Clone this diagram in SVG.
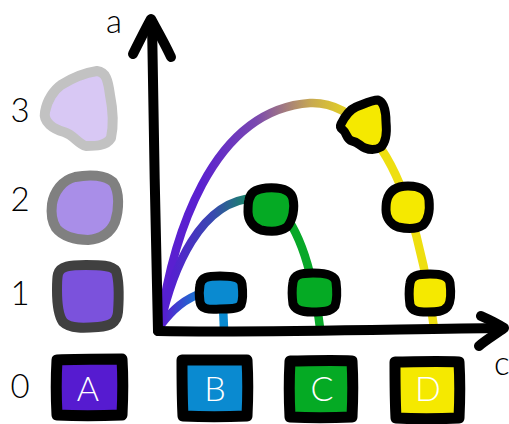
<svg xmlns="http://www.w3.org/2000/svg" width="509" height="424" viewBox="0 0 509 424">
<defs>
<style>
text{font-family:Lato,"Liberation Sans",sans-serif;font-weight:300;font-size:33px;fill:#000}
.lbl{fill:#fff;text-anchor:middle;font-size:34px}
.ax{fill:none;stroke:#000;stroke-width:10;stroke-linecap:round;stroke-linejoin:round}
.cv{fill:none;stroke-width:8.5;stroke-linecap:butt}
.pt{stroke:#000;stroke-width:9;stroke-linejoin:round}
.box{stroke:#000;stroke-width:11;stroke-linejoin:round}
.blob{stroke-width:10;stroke-linejoin:round}
</style>
<linearGradient id="gBig" gradientUnits="userSpaceOnUse" x1="200" y1="0" x2="360" y2="0">
<stop offset="0" stop-color="#5a20d0"/><stop offset="0.35" stop-color="#7a48b0"/><stop offset="0.7" stop-color="#c8aa50"/><stop offset="1" stop-color="#eedf10"/>
</linearGradient>
<linearGradient id="gMid" gradientUnits="userSpaceOnUse" x1="172" y1="0" x2="262" y2="0">
<stop offset="0" stop-color="#5520d0"/><stop offset="0.45" stop-color="#3848b0"/><stop offset="0.8" stop-color="#1c8070"/><stop offset="1" stop-color="#08a828"/>
</linearGradient>
<linearGradient id="gSm" gradientUnits="userSpaceOnUse" x1="165" y1="0" x2="205" y2="0">
<stop offset="0" stop-color="#5520d0"/><stop offset="1" stop-color="#0a8ad0"/>
</linearGradient>
</defs>
<rect width="509" height="424" fill="#fff"/>

<g id="connectors">
<path class="cv" stroke="url(#gBig)" d="M160,326 C172,240 210,110 310,103 C355,101 390,150 408,207 C420,245 428,280 434,328"/>
<path class="cv" stroke="url(#gMid)" d="M160,326 C172,270 200,200 255,198"/>
<path class="cv" stroke="#08a828" d="M255,198 C285,196 305,245 314,292 C317,305 319,318 320,328"/>
<path class="cv" stroke="url(#gSm)" d="M160,326 C172,310 185,298 205,292"/>
<path class="cv" stroke="#0a8ad0" d="M223,305 L224,330"/>
</g>

<g id="axes">
<path class="ax" d="M158,331 C156,250 153,100 152,22"/>
<path class="ax" d="M133,54 C140,40 146,28 151,19 C157,30 164,42 171,57"/>
<path class="ax" d="M158,331 C260,333 400,329 503,328"/>
<path class="ax" d="M481,316 C490,320 498,324 504,328 C496,334 486,340 479,346"/>
<text x="114" y="33" text-anchor="middle" font-size="37">a</text>
<text x="494" y="375" font-size="35">c</text>
</g>

<g id="level3"><text x="20" y="122" text-anchor="middle">3</text>
<path class="blob" fill="#d8c8f4" stroke="#c2c2c2" d="M45,112 C47,100 54,90 61,85 C72,78 84,73 97,71 C106,72 108,80 110,95 C113,110 114,124 111,138 C106,146 96,146 86,146 C78,144 74,135 64,132 C53,129 43,122 45,112 Z"/></g>
<g id="level2"><text x="20" y="211" text-anchor="middle">2</text>
<path class="blob" fill="#a98ee8" stroke="#808080" d="M52,204 C54,192 62,180 75,177 C90,174 105,175 113,182 C120,192 119,210 115,222 C110,234 100,239 88,240 C75,240 62,236 56,228 C51,220 51,212 52,204 Z"/></g>
<g id="level1"><text x="20" y="305" text-anchor="middle">1</text>
<path class="blob" fill="#7b52dc" stroke="#404040" d="M58,274 C60,266 70,265 86,265 C100,265 112,265 116,271 C119,280 119,298 118,312 C117,323 110,326 98,327 C85,328 70,329 63,322 C58,315 57,300 57,290 C57,283 57,278 58,274 Z"/></g>
<g id="level0"><text x="20" y="398" text-anchor="middle">0</text></g>

<g id="ptB"><path class="pt" fill="#0a8ad0" d="M200,285 C201,277 208,276 220,276 C232,276 241,277 242,284 C243,292 243,300 241,305 C238,309 230,309 220,309 C208,310 201,309 200,302 C199,296 199,290 200,285 Z"/></g>
<g id="ptC1"><path class="pt" fill="#05aa24" d="M249,200 C250,193 255,189 266,188 C280,187 291,190 293,199 C295,208 293,220 287,227 C280,232 270,232 261,230 C252,227 248,219 248,212 C248,207 248,203 249,200 Z"/></g>
<g id="ptC2"><path class="pt" fill="#05aa24" d="M293,282 C294,275 300,273 313,273 C326,273 335,275 336,282 C337,290 337,300 335,306 C331,312 322,312 312,312 C301,312 295,310 293,304 C292,297 292,288 293,282 Z"/></g>
<g id="ptD1"><path class="pt" fill="#f5e900" d="M410,283 C411,276 417,274 430,274 C442,274 449,276 450,283 C451,291 451,301 448,306 C444,312 436,312 427,312 C418,312 412,311 410,305 C409,298 409,289 410,283 Z"/></g>
<g id="ptD2"><path class="pt" fill="#f5e900" d="M387,200 C389,192 395,186 408,186 C420,186 428,190 429,200 C430,210 428,220 423,225 C417,229 407,229 398,227 C390,224 386,217 386,210 C386,206 386,203 387,200 Z"/></g>
<g id="ptD3"><path class="pt" fill="#f5e900" d="M341,124 C345,116 349,110 356,107 C364,104 372,100 378,100 C384,102 386,112 386,122 C387,132 386,142 381,147 C376,150 370,150 365,148 C360,146 358,142 352,141 C346,139 347,133 343,130 C340,128 340,126 341,124 Z"/></g>

<g id="boxA"><path class="box" fill="#561bd0" d="M57,360 C75,359 100,359 122,359 C123,375 123,395 122,415 C100,416 75,416 57,415 C56,396 56,377 57,360 Z"/><text class="lbl" x="88" y="401">A</text></g>
<g id="boxB"><path class="box" fill="#0a8ad0" d="M182,360 C200,360 225,360 247,360 C248,377 248,396 247,416 C226,417 202,417 183,416 C182,397 182,378 182,360 Z"/><text class="lbl" x="215" y="401">B</text></g>
<g id="boxC"><path class="box" fill="#05aa24" d="M290,361 C308,361 332,360 352,361 C353,378 353,397 352,417 C332,418 308,418 290,417 C289,398 289,379 290,361 Z"/><text class="lbl" x="322" y="401">C</text></g>
<g id="boxD"><path class="box" fill="#f5e900" d="M395,362 C413,362 438,361 459,362 C460,379 460,398 459,418 C438,419 414,419 396,418 C395,399 395,380 395,362 Z"/><text class="lbl" x="428" y="401">D</text></g>
</svg>
